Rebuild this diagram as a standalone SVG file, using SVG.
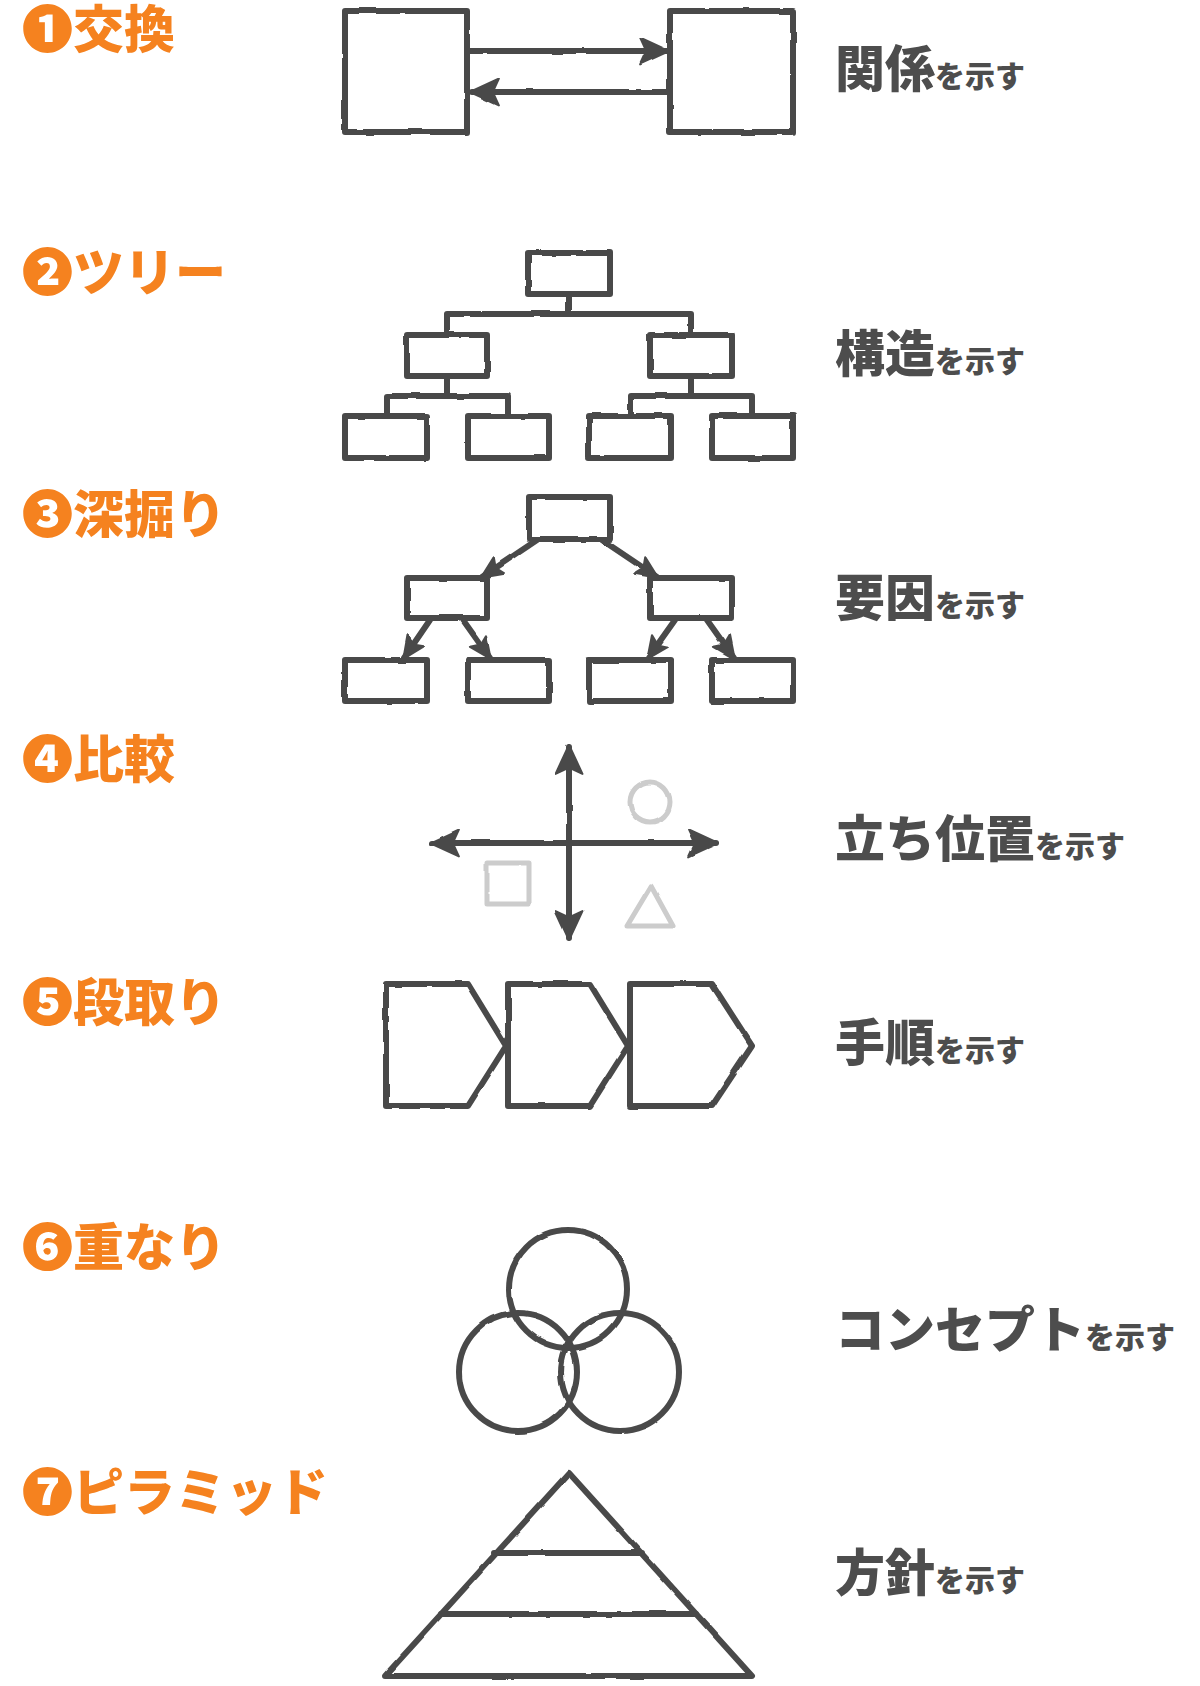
<svg xmlns="http://www.w3.org/2000/svg" width="1200" height="1686" viewBox="0 0 1200 1686">
<style>
.t{font-family:"Noto Sans CJK JP","Noto Sans",sans-serif;font-weight:900;font-size:51px;fill:#F5821F}
.l{font-family:"Noto Sans CJK JP","Noto Sans",sans-serif;font-weight:900;font-size:50px;fill:#4d4d4d}
.s{font-size:30px}
.b{fill:#fff;stroke:#4a4a4a;stroke-width:6;stroke-linejoin:round;stroke-linecap:round}
.c{fill:none;stroke:#4a4a4a;stroke-width:6;stroke-linejoin:round;stroke-linecap:round}
.g{fill:none;stroke:#cccccc;stroke-width:5;stroke-linejoin:round}
</style>
<defs>
<filter id="w" x="-5%" y="-5%" width="110%" height="110%">
<feTurbulence type="fractalNoise" baseFrequency="0.04" numOctaves="2" seed="3" result="n"/>
<feDisplacementMap in="SourceGraphic" in2="n" scale="2.5" xChannelSelector="R" yChannelSelector="G"/>
</filter>
<marker id="ah" viewBox="0 0 30 28" refX="27" refY="14" markerWidth="31" markerHeight="29" markerUnits="userSpaceOnUse" orient="auto-start-reverse">
<path d="M1,1 L29,14 L1,27 L7,14 Z" fill="#4a4a4a" stroke="#4a4a4a" stroke-width="2" stroke-linejoin="round"/>
</marker>
<marker id="as" viewBox="0 0 22 20" refX="20" refY="10" markerWidth="24" markerHeight="22" markerUnits="userSpaceOnUse" orient="auto">
<path d="M1,1 L21,10 L1,19 L5,10 Z" fill="#4a4a4a" stroke="#4a4a4a" stroke-width="2" stroke-linejoin="round"/>
</marker>
</defs>
<rect width="1200" height="1686" fill="#fff"/>

<g id="titles">
<text class="t" x="22" y="48">❶交換</text>
<text class="t" x="22" y="291">❷ツリー</text>
<text class="t" x="22" y="533">❸深掘り</text>
<text class="t" x="22" y="778">❹比較</text>
<text class="t" x="22" y="1021">❺段取り</text>
<text class="t" x="22" y="1266">❻重なり</text>
<text class="t" x="22" y="1511">❼ピラミッド</text>
</g>

<g id="labels">
<text class="l" x="835" y="87">関係<tspan class="s">を示す</tspan></text>
<text class="l" x="835" y="372">構造<tspan class="s">を示す</tspan></text>
<text class="l" x="835" y="616">要因<tspan class="s">を示す</tspan></text>
<text class="l" x="835" y="857">立ち位置<tspan class="s">を示す</tspan></text>
<text class="l" x="835" y="1061">手順<tspan class="s">を示す</tspan></text>
<text class="l" x="835" y="1348">コンセプト<tspan class="s">を示す</tspan></text>
<text class="l" x="835" y="1591">方針<tspan class="s">を示す</tspan></text>
</g>

<g filter="url(#w)">
<g id="connectors">
<line class="c" x1="467" y1="51" x2="667" y2="51" marker-end="url(#ah)"/>
<line class="c" x1="670" y1="92" x2="472" y2="92" marker-end="url(#ah)"/>
<path class="c" d="M569,294 V314 M447,335 V314 H691 V335 M447,376 V396 M387,416 V396 H508 V416 M691,376 V396 M631,416 V396 H752 V416"/>
<line class="c" x1="537" y1="540" x2="482" y2="577" marker-end="url(#as)"/>
<line class="c" x1="602" y1="540" x2="657" y2="577" marker-end="url(#as)"/>
<line class="c" x1="430" y1="620" x2="404" y2="658" marker-end="url(#as)"/>
<line class="c" x1="463" y1="620" x2="490" y2="658" marker-end="url(#as)"/>
<line class="c" x1="675" y1="620" x2="648" y2="658" marker-end="url(#as)"/>
<line class="c" x1="707" y1="620" x2="734" y2="658" marker-end="url(#as)"/>
<line class="c" x1="569" y1="747" x2="569" y2="938" marker-start="url(#ah)" marker-end="url(#ah)"/>
<line class="c" x1="432" y1="843" x2="716" y2="843" marker-start="url(#ah)" marker-end="url(#ah)"/>
</g>

<g id="n1-left"><rect class="b" x="345" y="11" width="122" height="121"/></g>
<g id="n1-right"><rect class="b" x="670" y="11" width="123" height="121"/></g>

<g id="n2-top"><rect class="b" x="528" y="253" width="82" height="41"/></g>
<g id="n2-mid-l"><rect class="b" x="407" y="335" width="80" height="41"/></g>
<g id="n2-mid-r"><rect class="b" x="650" y="335" width="82" height="41"/></g>
<g id="n2-leaf-1"><rect class="b" x="345" y="416" width="82" height="42"/></g>
<g id="n2-leaf-2"><rect class="b" x="468" y="416" width="81" height="42"/></g>
<g id="n2-leaf-3"><rect class="b" x="589" y="416" width="82" height="42"/></g>
<g id="n2-leaf-4"><rect class="b" x="712" y="416" width="81" height="42"/></g>

<g id="n3-top"><rect class="b" x="529" y="497" width="81" height="42"/></g>
<g id="n3-mid-l"><rect class="b" x="407" y="578" width="80" height="40"/></g>
<g id="n3-mid-r"><rect class="b" x="650" y="578" width="82" height="40"/></g>
<g id="n3-leaf-1"><rect class="b" x="345" y="660" width="82" height="41"/></g>
<g id="n3-leaf-2"><rect class="b" x="468" y="660" width="81" height="41"/></g>
<g id="n3-leaf-3"><rect class="b" x="589" y="660" width="82" height="41"/></g>
<g id="n3-leaf-4"><rect class="b" x="712" y="660" width="81" height="41"/></g>

<g id="n4-circle"><circle class="g" cx="650" cy="802" r="20"/></g>
<g id="n4-square"><rect class="g" x="487" y="863" width="42" height="41"/></g>
<g id="n4-triangle"><polygon class="g" points="651,886 673,926 627,926"/></g>

<g id="n5-step-1"><polygon class="b" points="386,984 468,984 506,1046 468,1106 386,1106"/></g>
<g id="n5-step-2"><polygon class="b" points="508,984 590,984 628,1046 590,1106 508,1106"/></g>
<g id="n5-step-3"><polygon class="b" points="630,984 712,984 752,1046 712,1106 630,1106"/></g>

<g id="n6-circles">
<circle class="c" cx="568" cy="1289" r="59"/>
<circle class="c" cx="518" cy="1372" r="59"/>
<circle class="c" cx="620" cy="1372" r="59"/>
</g>

<g id="n7-pyramid">
<polygon class="c" points="569,1473 752,1676 385,1676"/>
<line class="c" x1="494" y1="1553" x2="642" y2="1553"/>
<line class="c" x1="441" y1="1614" x2="696" y2="1614"/>
</g>
</g>
</svg>
